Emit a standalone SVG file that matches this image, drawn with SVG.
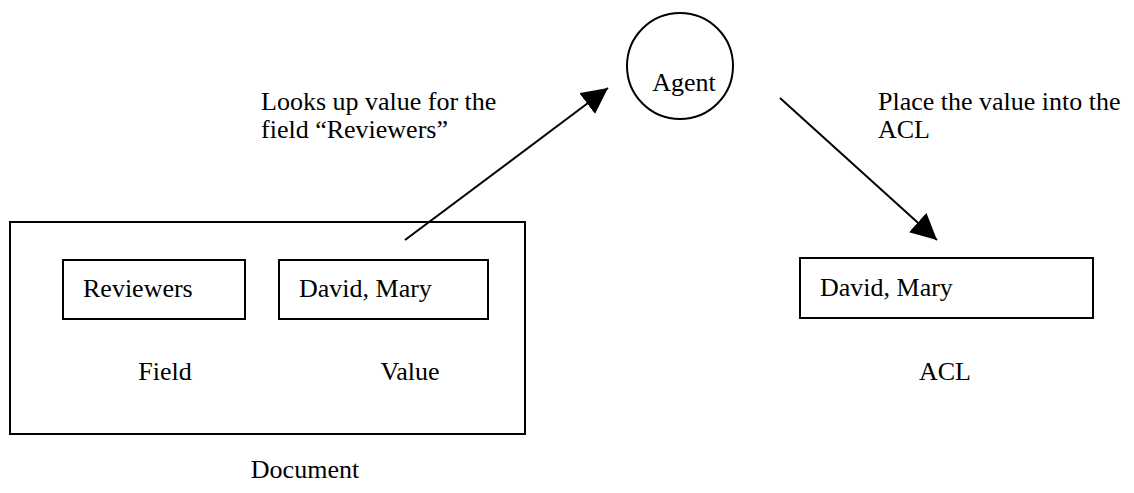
<svg xmlns="http://www.w3.org/2000/svg" width="1134" height="493" viewBox="0 0 1134 493">
<style>
  .box { fill: none; stroke: #000; stroke-width: 2; }
  .t { font-family: "Liberation Serif", "Times New Roman", "DejaVu Serif", serif; font-size: 26px; fill: #000; }
  .c { text-anchor: middle; }
  .edge { stroke: #000; stroke-width: 2; fill: none; }
</style>
<defs>
  <marker id="ah" markerUnits="userSpaceOnUse" markerWidth="28" markerHeight="26" refX="26" refY="13" orient="auto">
    <path d="M0,0 L26,13 L0,26 z" fill="#000"/>
  </marker>
</defs>
<rect width="1134" height="493" fill="#fff"/>
<g id="document">
  <rect class="box" x="10" y="222" width="515" height="212"/>
  <text class="t c" x="305" y="478">Document</text>
</g>
<g id="field">
  <rect class="box" x="63" y="260" width="182" height="59"/>
  <text class="t" x="83" y="297">Reviewers</text>
  <text class="t c" x="165" y="380">Field</text>
</g>
<g id="value">
  <rect class="box" x="279" y="260" width="209" height="59"/>
  <text class="t" x="299" y="297">David, Mary</text>
  <text class="t c" x="410" y="380">Value</text>
</g>
<g id="agent">
  <circle class="box" cx="680" cy="66" r="53"/>
  <text class="t c" x="684" y="91">Agent</text>
</g>
<g id="acl">
  <rect class="box" x="800" y="258" width="293" height="60"/>
  <text class="t" x="820" y="296">David, Mary</text>
  <text class="t c" x="945" y="380">ACL</text>
</g>
<g id="connectors">
  <line class="edge" x1="405" y1="240" x2="608" y2="88" marker-end="url(#ah)"/>
  <line class="edge" x1="780" y1="98" x2="937" y2="240" marker-end="url(#ah)"/>
  <text class="t" x="261" y="110">Looks up value for the</text>
  <text class="t" x="261" y="138">field “Reviewers”</text>
  <text class="t" x="878" y="110">Place the value into the</text>
  <text class="t" x="878" y="138">ACL</text>
</g>
</svg>
